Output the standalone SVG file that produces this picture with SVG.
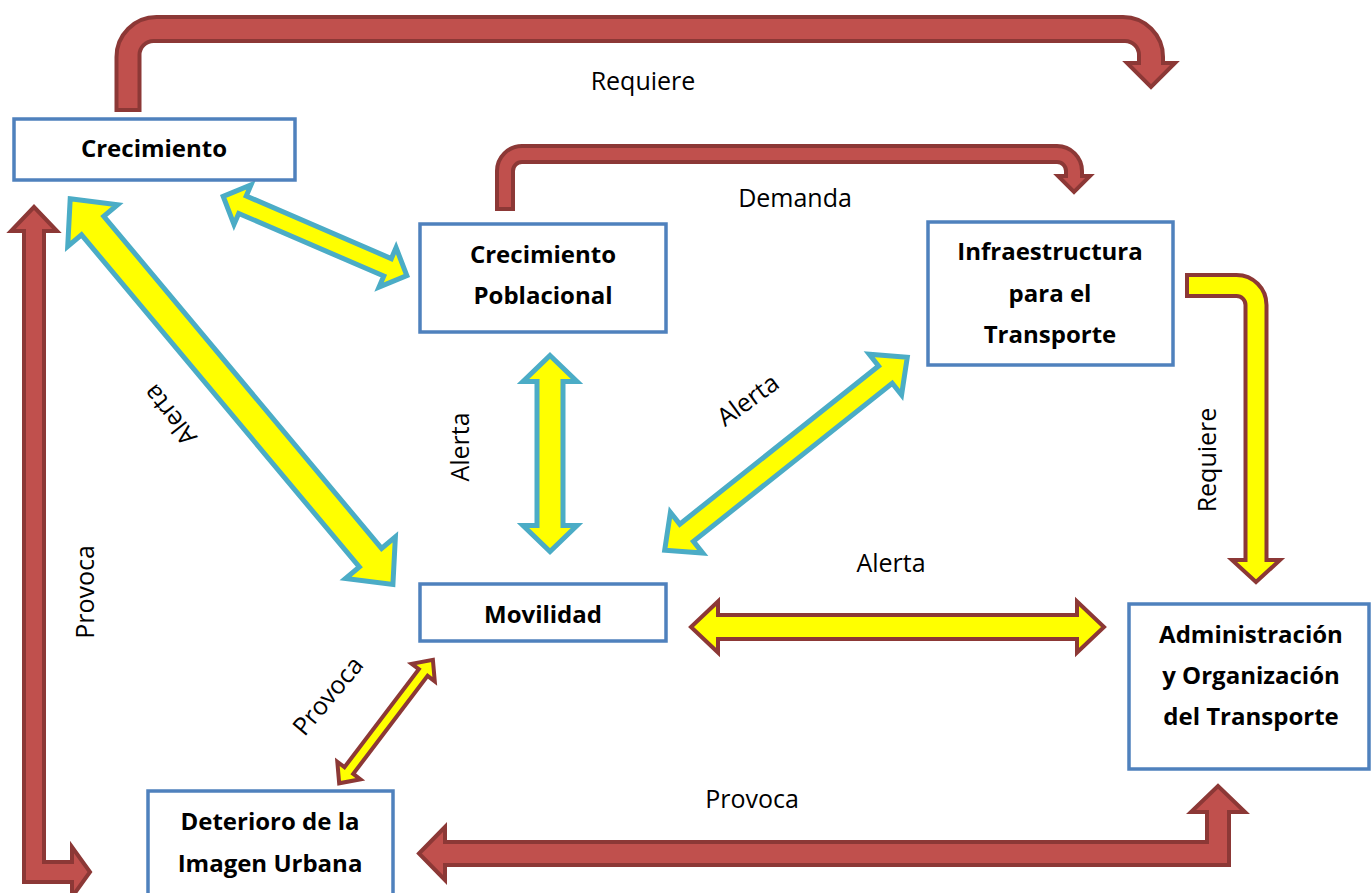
<svg xmlns="http://www.w3.org/2000/svg" width="1371" height="893" viewBox="0 0 1371 893">
<style>
.node{fill:#fff;stroke:#4F81BD;stroke-width:3.5}
.nt{font-family:"Open Sans","Liberation Sans",sans-serif;font-weight:bold;font-size:24px;fill:#000;text-anchor:middle}
.lb{font-family:"Open Sans","Liberation Sans",sans-serif;font-size:25px;fill:#000;text-anchor:middle}
.red{fill:#C0504D;stroke:#8C3836;stroke-width:4;stroke-linejoin:miter}
.ycy{fill:#FFFF00;stroke:#4BACC6;stroke-width:5;stroke-linejoin:miter}
.yrd{fill:#FFFF00;stroke:#8C3836;stroke-width:4;stroke-linejoin:miter}
</style>
<rect width="1371" height="893" fill="#fff"/>
<g id="connectors">
  <path class="red" d="M116.5,110 L116.5,57 A40,40 0 0 1 156.5,17 L1123,17 A40,40 0 0 1 1163,57 L1163,63 L1175,63 L1151,87 L1127,63 L1139,63 L1139,55 A14,14 0 0 0 1125,41 L153.5,41 A14,14 0 0 0 139.5,55 L139.5,110 Z"/>
  <path class="red" d="M497,209 L497,171 A25,25 0 0 1 522,146 L1057,146 A25,25 0 0 1 1082,171 L1082,176 L1090,176 L1074,192 L1058,176 L1066,176 L1066,171 A9,9 0 0 0 1057,162 L522,162 A9,9 0 0 0 513,171 L513,209 Z"/>
  <path class="ycy" transform="translate(223.2,196.4) rotate(23.34)" d="M0,0 L21,-21.5 L21,-9.5 L179,-9.5 L179,-21.5 L200,0 L179,21.5 L179,9.5 L21,9.5 L21,21.5 Z"/>
  <path class="ycy" transform="translate(70.2,198.7) rotate(50.09)" d="M0,0 L35,-32.5 L35,-14.5 L468,-14.5 L468,-32.5 L503,0 L468,32.5 L468,14.5 L35,14.5 L35,32.5 Z"/>
  <path class="ycy" transform="translate(550,355.5) rotate(90)" d="M0,0 L26,-27 L26,-13 L170,-13 L170,-27 L196,0 L170,27 L170,13 L26,13 L26,27 Z"/>
  <path class="ycy" transform="translate(907.3,357.2) rotate(141.5)" d="M0,0 L28,-26 L28,-11 L282,-11 L282,-26 L310,0 L282,26 L282,11 L28,11 L28,26 Z"/>
  <path class="yrd" transform="translate(691,627)" d="M0,0 L27,-25.5 L27,-12 L386,-12 L386,-25.5 L413,0 L386,25.5 L386,12 L27,12 L27,25.5 Z"/>
  <path class="yrd" transform="translate(432.9,659.8) rotate(127.2)" d="M0,0 L16,-14.5 L16,-5.5 L139,-5.5 L139,-14.5 L155,0 L139,14.5 L139,5.5 L16,5.5 L16,14.5 Z"/>
  <path class="yrd" d="M1187,275 L1236.5,275 A30,30 0 0 1 1266.5,305 L1266.5,560 L1280,560 L1256,582 L1232,560 L1245.5,560 L1245.5,305 A9,9 0 0 0 1236.5,296 L1187,296 Z"/>
  <path class="red" d="M34,207 L57,231 L44,231 L44,862 L72,862 L72,847 L90,872 L72,897 L72,882 L24,882 L24,231 L11,231 Z"/>
  <path class="red" d="M419,853.5 L445,827 L445,842 L1207,842 L1207,812 L1191,812 L1218,786 L1245,812 L1229,812 L1229,865 L445,865 L445,880 Z"/>
  <text class="lb" x="643" y="90">Requiere</text>
  <text class="lb" x="795" y="207">Demanda</text>
  <text class="lb" x="891" y="572">Alerta</text>
  <text class="lb" x="752" y="808">Provoca</text>
  <text class="lb" transform="translate(460,447) rotate(-90)" x="0" y="8.5">Alerta</text>
  <text class="lb" transform="translate(1207,460) rotate(-90)" x="0" y="8.5">Requiere</text>
  <text class="lb" transform="translate(85.5,592) rotate(-90)" x="0" y="8.5">Provoca</text>
  <text class="lb" transform="translate(748,400) rotate(-36)" x="0" y="8.5">Alerta</text>
  <text class="lb" transform="translate(328,696) rotate(-50)" x="0" y="8.5">Provoca</text>
  <text class="lb" transform="translate(170,415) rotate(232)" x="0" y="8.5">Alerta</text>
</g>
<g id="n-crecimiento">
  <rect class="node" x="14" y="119" width="281" height="61"/>
  <text class="nt" x="154" y="157">Crecimiento</text>
</g>
<g id="n-poblacional">
  <rect class="node" x="420" y="224" width="246" height="108"/>
  <text class="nt" x="543" y="263">Crecimiento</text>
  <text class="nt" x="543" y="304">Poblacional</text>
</g>
<g id="n-infraestructura">
  <rect class="node" x="928" y="222" width="245" height="143"/>
  <text class="nt" x="1050" y="260">Infraestructura</text>
  <text class="nt" x="1050" y="302">para el</text>
  <text class="nt" x="1050" y="343">Transporte</text>
</g>
<g id="n-movilidad">
  <rect class="node" x="420" y="584" width="246" height="57"/>
  <text class="nt" x="543" y="623">Movilidad</text>
</g>
<g id="n-administracion">
  <rect class="node" x="1129" y="604" width="240" height="165"/>
  <text class="nt" x="1251" y="643">Administración</text>
  <text class="nt" x="1251" y="684">y Organización</text>
  <text class="nt" x="1251" y="725">del Transporte</text>
</g>
<g id="n-deterioro">
  <rect class="node" x="148" y="791" width="245" height="120"/>
  <text class="nt" x="270" y="830">Deterioro de la</text>
  <text class="nt" x="270" y="872">Imagen Urbana</text>
</g>
</svg>
